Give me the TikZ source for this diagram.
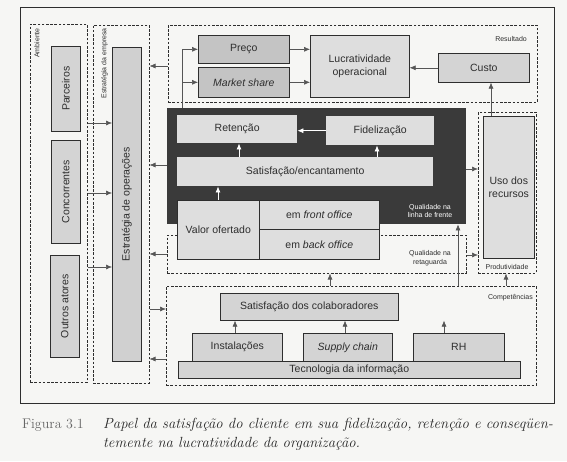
\documentclass[tikz,border=0pt]{standalone}
\usepackage{fontspec}
\newfontfamily\arialf{Liberation Sans}
\usetikzlibrary{arrows.meta}
\definecolor{ink}{HTML}{2E2E2E}
\definecolor{paper}{HTML}{F6F6F4}
\definecolor{gA}{HTML}{C4C4C4}
\definecolor{gB}{HTML}{D4D4D4}
\definecolor{gC}{HTML}{DEDEDE}
\definecolor{darkbg}{HTML}{3A3A3A}
\definecolor{arrgray}{HTML}{555555}
\begin{document}
\begin{tikzpicture}[x=1pt,y=-1pt,
  box/.style={draw=ink, line width=0.6pt, fill=#1, inner sep=0pt, anchor=north west,
    font=\arialf\fontsize{10.5}{12.5}\selectfont, text=ink, align=center},
  box/.default=gB,
  lbox/.style={draw=none, fill=gC, inner sep=0pt, anchor=north west,
    font=\arialf\fontsize{10.5}{12.5}\selectfont, text=ink, align=center},
  dbox/.style={draw=ink, line width=0.5pt, dash pattern=on 2.6pt off 1.6pt, inner sep=0pt, anchor=north west},
  small/.style={font=\arialf\fontsize{7}{8.5}\selectfont, text=ink, align=center, inner sep=0pt},
  arr/.style={draw=arrgray, line width=0.6pt, -{Latex[length=6pt,width=5pt]}},
  warr/.style={draw=white, line width=0.8pt, -{Latex[length=6pt,width=5pt]}},
  rtext/.style={rotate=90, font=\arialf\fontsize{10.5}{12.5}\selectfont, text=ink, inner sep=0pt}
]
\useasboundingbox (0,0) rectangle (567,461);
\fill[paper] (0,0) rectangle (567,461);
\draw[line width=0.8pt, ink] (20,7) rectangle (554,403);

% left column boxes
\node[dbox, minimum width=57pt, minimum height=358pt] (amb) at (30,24) {};
\node[small, rotate=90, anchor=north east] (ambl) at (34,28) {Ambiente};
\node[dbox, minimum width=56pt, minimum height=358pt] (emp) at (93,25) {};
\node[small, rotate=90, anchor=north east] (empl) at (101,28) {Estratégia da empresa};

\node[box, minimum width=29pt, minimum height=85pt] (parc) at (51,46) {};
\node[rtext] (parct) at (parc) {Parceiros};
\node[box, minimum width=29pt, minimum height=103pt] (conc) at (51,140) {};
\node[rtext] (conct) at (conc) {Concorrentes};
\node[box, minimum width=29pt, minimum height=102pt] (outr) at (50,255) {};
\node[rtext] (outrt) at (outr) {Outros atores};
\node[box=gA!80, minimum width=29pt, minimum height=314pt] (estop) at (112,47) {};
\node[rtext] (estopt) at (estop) {Estratégia de operações};

% Resultado
\node[dbox, minimum width=369pt, minimum height=77pt] (res) at (168,25) {};
\node[small, anchor=east] (resl) at (527,39) {Resultado};
\node[box=gA, minimum width=91pt, minimum height=28pt] (preco) at (198,35) {Preço};
\node[box=gA, minimum width=91pt, minimum height=30pt] (mshare) at (198,67) {\textit{Market share}};
\node[box=gC, minimum width=99pt, minimum height=62pt] (lucr) at (310,35) {Lucratividade\\operacional};
\node[box, minimum width=91pt, minimum height=29pt] (custo) at (438,53) {Custo};

% Qualidade na retaguarda (behind)
\node[dbox, minimum width=299pt, minimum height=38pt] (retag) at (167,235) {};
\node[small] (retagl) at (430,258) {Qualidade na\\retaguarda};

% dark box
\node[fill=darkbg, draw=none, inner sep=0pt, anchor=north west, minimum width=299pt, minimum height=116pt] (dark) at (167,108) {};
\node[small, text=white] (darkl) at (430,211) {Qualidade na\\linha de frente};
\node[lbox, minimum width=120pt, minimum height=28pt] (ret) at (177,115) {Retenção};
\node[lbox, minimum width=108pt, minimum height=29pt] (fid) at (326,116) {Fidelização};
\node[lbox, minimum width=256pt, minimum height=29pt] (sat) at (177,157) {Satisfação/encantamento};
\node[box=gC, minimum width=82pt, minimum height=59pt] (valor) at (177,200) {Valor ofertado};
\node[box=gC, minimum width=120pt, minimum height=29pt] (front) at (259,200) {em \textit{front office}};
\node[box=gC, minimum width=120pt, minimum height=30pt] (back) at (259,229) {em \textit{back office}};

% Produtividade
\node[dbox, minimum width=58pt, minimum height=161pt] (prod) at (478,112) {};
\node[box=gC, minimum width=51pt, minimum height=142pt] (uso) at (483,116) {Uso dos\\recursos};
\node[small] (prodl) at (507,267) {Produtividade};

% Competencias
\node[dbox, minimum width=370pt, minimum height=99pt] (comp) at (166,286) {};
\node[small, anchor=east] (compl) at (533,298) {Competências};
\node[box, minimum width=178pt, minimum height=27pt] (satcol) at (220,293) {Satisfação dos colaboradores};
\node[box, minimum width=342pt, minimum height=17pt] (tec) at (178,361) {Tecnologia da informação};
\node[box, minimum width=90pt, minimum height=28pt] (inst) at (192,333) {Instalações};
\node[box, minimum width=89pt, minimum height=28pt] (supp) at (303,333) {\textit{Supply chain}};
\node[box, minimum width=91pt, minimum height=28pt] (rh) at (413,333) {RH};

% arrows left column
\draw[arr] (amb.east |- 0,123) -- (estop.west |- 0,123);
\draw[arr] (amb.east |- 0,193) -- (estop.west |- 0,193);
\draw[arr] (amb.east |- 0,267) -- (estop.west |- 0,267);
\draw[arr] (res.west |- 0,66) -- (emp.east |- 0,66);
\draw[arr] (dark.west |- 0,165) -- (emp.east |- 0,165);
\draw[arr] (retag.west |- 0,254) -- (emp.east |- 0,254);
\draw[arr] (emp.east |- 0,309) -- (comp.west |- 0,309);
\draw[arr] (comp.west |- 0,359) -- (emp.east |- 0,359);

% result arrows
\draw[arr] (dark.north -| 182,0) |- (preco.west);
\draw[arr] (dark.north -| 182,0) |- (mshare.west);
\draw[arr] (preco.east) -- (preco.east -| lucr.west);
\draw[arr] (mshare.east) -- (mshare.east -| lucr.west);
\draw[arr] (custo.west) -- (custo.west -| lucr.east);
\draw[arr] (uso.north -| 491,0) -- (custo.south -| 491,0);

% white arrows
\draw[warr] (fid.west) -- (fid.west -| ret.east);
\draw[warr] (sat.north -| 239,0) -- (ret.south -| 239,0);
\draw[warr] (sat.north -| 377,0) -- (fid.south -| 377,0);
\draw[warr] (valor.north -| 218,0) -- (sat.south -| 218,0);

% productivity arrows
\draw[arr] (dark.east |- 0,169) -- (prod.west |- 0,169);
\draw[arr] (retag.east |- 0,255) -- (prod.west |- 0,255);
\draw[arr] (comp.north -| 506,0) -- (prod.south -| 506,0);
\draw[arr] (comp.north -| 330,0) -- (retag.south -| 330,0);
\draw[arr] (comp.north -| 458,0) -- (dark.south -| 458,0);

% competencias arrows
\draw[arr] (inst.north -| 235,0) -- (satcol.south -| 235,0);
\draw[arr] (supp.north -| 345,0) -- (satcol.south -| 345,0);
\draw[arr] (rh.north -| 444,0) -- (satcol.south -| 444,0);

% caption
\node[anchor=base west, inner sep=0pt, text=black!60, font=\fontsize{14}{19}\selectfont] (figno) at (22,428) {Figura 3.1};
\node[anchor=base west, inner sep=0pt, text=black!85, font=\itshape\fontsize{14.7}{19}\selectfont] (cap1) at (103,428) {Papel da satisfação do cliente em sua fidelização, retenção e conseqüen-};
\node[anchor=base west, inner sep=0pt, text=black!85, font=\itshape\fontsize{14.7}{19}\selectfont] (cap2) at (103,447) {temente na lucratividade da organização.};
\end{tikzpicture}
\end{document}
